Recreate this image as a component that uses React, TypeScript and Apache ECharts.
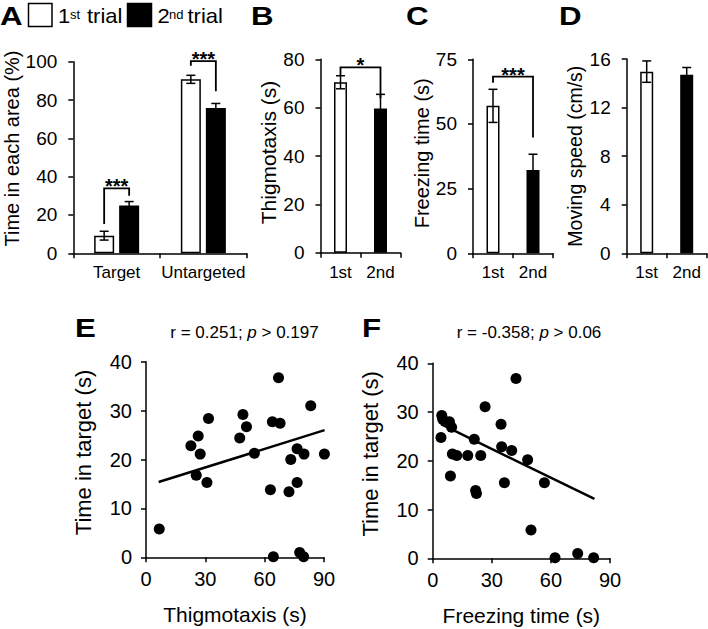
import React, { useEffect, useRef } from 'react';
import * as echarts from 'echarts';

// ---------- Data ----------
// Panel A: time in each area (%)
const areaCategories = ['Target', 'Untargeted'];
const area1stMean = [9.2, 90.8];
const area1stErr = [2.3, 2.1];
const area2ndMean = [24.9, 75.8];
const area2ndErr = [2.1, 2.4];

// Panels B-D
const trialCategories = ['1st', '2nd'];
const thigmoMean = [70.5, 59.7];
const thigmoErr = [2.7, 5.8];
const freezeMean = [57.0, 32.2];
const freezeErr = [6.4, 6.1];
const speedMean = [14.96, 14.7];
const speedErr = [0.88, 0.6];

// Significance brackets: [leftCategory, rightCategory, top, leftLegEnd, rightLegEnd]
const sigA = [
  [0, 0, 33.9, 15.3, 30.0],
  [1, 1, 100.3, 97.9, 84.6],
];
const sigALabels = ['***', '***'];
const sigB = [[0, 1, 76.7, 73.5, 63.9]];
const sigBLabels = ['*'];
const sigC = [[0, 1, 68.3, 65.9, 44.8]];
const sigCLabels = ['***'];

// Panel E: thigmotaxis (s) vs time in target (s)
const thigmoVsTarget = [
  [6.7, 5.8], [22.7, 22.8], [26.4, 24.8], [27.4, 21.1], [25.4, 16.8],
  [30.8, 15.3], [31.6, 28.4], [47.4, 24.4], [49.0, 29.2], [50.8, 26.7],
  [54.8, 21.3], [63.9, 27.7], [67.8, 27.4], [67.0, 36.7], [62.9, 13.8],
  [64.4, 0.1], [72.3, 13.4], [73.2, 20.0], [76.4, 15.3], [76.4, 22.2],
  [79.9, 21.1], [83.3, 31.0], [90.2, 21.1], [77.7, 1.0], [79.7, 0.1],
];
const thigmoTrend = [[6.4, 15.4], [90.3, 26.0]];
const titleE = { r: '0.251', p: '0.197' };

// Panel F: freezing time (s) vs time in target (s)
const freezeVsTarget = [
  [4.6, 29.3], [5.1, 28.5], [8.5, 28.0], [9.6, 26.9], [4.2, 24.8],
  [10.0, 21.4], [12.2, 21.1], [9.0, 16.9], [17.8, 21.1], [21.1, 24.4],
  [24.4, 21.1], [26.6, 31.1], [21.8, 13.9], [22.2, 13.3], [34.7, 27.5],
  [35.0, 22.9], [40.1, 22.1], [36.4, 15.5], [42.3, 36.9], [48.2, 20.2],
  [56.7, 15.5], [49.9, 5.8], [62.1, 0.1], [73.6, 1.0], [81.7, 0.1],
];
const freezeTrend = [[4.2, 27.5], [82.1, 12.2]];
const titleF = { r: '-0.358', p: '0.06' };

// ---------- Styles ----------
const FONT = '"Liberation Sans", Arial, Helvetica, sans-serif';
const BLACK = '#000';
const axisLine = { show: true, onZero: false, lineStyle: { color: BLACK, width: 1.5 } };
const axisTick = { show: true, length: 5, inside: false, lineStyle: { color: BLACK, width: 1.5 } };
const whiteBar = { color: '#fff', borderColor: BLACK, borderWidth: 1.5 };
const blackBar = { color: BLACK, borderColor: BLACK, borderWidth: 1.5 };

function yAxisDef(gi: number, min: number, max: number, interval: number, name: string,
  gap: number, nameSize: number, shift: number, labelSize: number, labelMargin: number) {
  return {
    type: 'value', gridIndex: gi, min, max, interval,
    name, nameLocation: 'middle', nameGap: gap, nameRotate: 90,
    nameTextStyle: { fontFamily: FONT, fontSize: nameSize, color: BLACK, padding: [0, 0, 0, shift * 2] },
    axisLine, axisTick, splitLine: { show: false },
    axisLabel: { fontFamily: FONT, fontSize: labelSize, color: BLACK, margin: labelMargin },
  };
}

function catXDef(gi: number, data: string[], labelSize: number) {
  return {
    type: 'category', gridIndex: gi, data, boundaryGap: true,
    axisLine, axisTick: { ...axisTick, alignWithLabel: false, interval: 0 },
    axisLabel: { fontFamily: FONT, fontSize: labelSize, color: BLACK, margin: 11, interval: 0 },
    splitLine: { show: false },
  };
}

function valXDef(gi: number, name: string, gap: number) {
  return {
    type: 'value', gridIndex: gi, min: 0, max: 90, interval: 30,
    name, nameLocation: 'middle', nameGap: gap,
    nameTextStyle: { fontFamily: FONT, fontSize: 21, color: BLACK },
    axisLine, axisTick, splitLine: { show: false },
    axisLabel: { fontFamily: FONT, fontSize: 20, color: BLACK, margin: 12 },
  };
}

function errRender(offset: number) {
  return (params: any, api: any) => {
    const cat = api.value(0);
    const mean = api.value(1);
    const err = api.value(2);
    const hi = api.coord([cat, mean + err]);
    const lo = api.coord([cat, mean - err]);
    const x = hi[0] + offset;
    const cap = 4.5;
    const st = { stroke: BLACK, lineWidth: 1.5 };
    return {
      type: 'group',
      children: [
        { type: 'line', shape: { x1: x, y1: hi[1], x2: x, y2: lo[1] }, style: st },
        { type: 'line', shape: { x1: x - cap, y1: hi[1], x2: x + cap, y2: hi[1] }, style: st },
        { type: 'line', shape: { x1: x - cap, y1: lo[1], x2: x + cap, y2: lo[1] }, style: st },
      ],
    };
  };
}

function bracketRender(labels: string[], leftOff: number, rightOff: number) {
  return (params: any, api: any) => {
    const lc = api.value(0);
    const rc = api.value(1);
    const top = api.value(2);
    const le = api.value(3);
    const re = api.value(4);
    const tl = api.coord([lc, top]);
    const tr = api.coord([rc, top]);
    const pl = api.coord([lc, le]);
    const pr = api.coord([rc, re]);
    const xl = tl[0] + leftOff;
    const xr = tr[0] + rightOff;
    const y = tl[1];
    return {
      type: 'group',
      children: [
        {
          type: 'polyline',
          shape: { points: [[xl, pl[1]], [xl, y], [xr, y], [xr, pr[1]]] },
          style: { stroke: BLACK, lineWidth: 1.8, fill: null },
        },
        {
          type: 'text', x: (xl + xr) / 2, y: y - 2,
          style: {
            text: labels[params.dataIndex], fontSize: 20, fontWeight: 'bold', fontFamily: FONT,
            fill: BLACK, align: 'center', verticalAlign: 'middle',
            textAlign: 'center', textVerticalAlign: 'middle',
          },
        },
      ],
    };
  };
}

function txt(text: string, x: number, y: number, size: number, extra: any = {}, scaleX = 1) {
  return {
    type: 'text', x, y, scaleX, silent: true,
    style: {
      text, fontSize: size, fontFamily: FONT, fill: BLACK,
      align: 'left', verticalAlign: 'middle', textAlign: 'left', textVerticalAlign: 'middle',
      ...extra,
    },
  };
}

function corrTitle(t: { r: string; p: string }, x: number, y: number) {
  return {
    type: 'text', x, y, silent: true,
    style: {
      text: `{n|r = ${t.r}; }{i|p}{n| > ${t.p}}`,
      fontFamily: FONT, fill: BLACK, fontSize: 17,
      align: 'center', verticalAlign: 'middle', textAlign: 'center', textVerticalAlign: 'middle',
      rich: {
        n: { fontFamily: FONT, fontSize: 17, fill: BLACK, color: BLACK },
        i: { fontFamily: FONT, fontSize: 17, fontStyle: 'italic', fill: BLACK, color: BLACK },
      },
    },
  };
}

function singleBars(means: number[]) {
  return means.map((v, i) => ({ value: v, itemStyle: i === 0 ? whiteBar : blackBar }));
}

function errData(means: number[], errs: number[]) {
  return means.map((m, i) => [i, m, errs[i]]);
}

function buildOption() {
  const BAR_OFF = 12.5;
  const bold = { fontWeight: 'bold' };
  const dot = { color: BLACK, opacity: 1 };
  return {
    animation: false,
    backgroundColor: '#fff',
    textStyle: { fontFamily: FONT },
    grid: [
      { left: 73.3, top: 61.7, width: 173.4, height: 191.6 },
      { left: 320.5, top: 59.3, width: 80, height: 193.4 },
      { left: 473, top: 59.3, width: 80, height: 194 },
      { left: 626.7, top: 59, width: 80, height: 194.3 },
      { left: 146, top: 361.7, width: 178, height: 195.6 },
      { left: 432.7, top: 363.3, width: 177.3, height: 195 },
    ],
    xAxis: [
      catXDef(0, areaCategories, 17),
      catXDef(1, trialCategories, 17),
      catXDef(2, trialCategories, 17),
      catXDef(3, trialCategories, 17),
      valXDef(4, 'Thigmotaxis (s)', 47),
      valXDef(5, 'Freezing time (s)', 47),
    ],
    yAxis: [
      yAxisDef(0, 0, 100, 20, 'Time in each area (%)', 50, 20, 9, 19, 16),
      yAxisDef(1, 0, 80, 20, 'Thigmotaxis (s)', 40, 21, 3.5, 19, 16),
      yAxisDef(2, 0, 75, 25, 'Freezing time (s)', 41, 20, 3, 19, 16),
      yAxisDef(3, 0, 16, 4, 'Moving speed (cm/s)', 42, 19.5, 0, 19, 16),
      yAxisDef(4, 0, 40, 10, 'Time in target (s)', 51.7, 22, 7, 20, 14),
      yAxisDef(5, 0, 40, 10, 'Time in target (s)', 51, 22, 7, 20, 14),
    ],
    series: [
      // Panel A
      { type: 'bar', name: '1st trial', xAxisIndex: 0, yAxisIndex: 0, data: area1stMean, barWidth: 20, barGap: '25%', itemStyle: whiteBar },
      { type: 'bar', name: '2nd trial', xAxisIndex: 0, yAxisIndex: 0, data: area2ndMean, barWidth: 20, barGap: '25%', itemStyle: blackBar },
      { type: 'custom', xAxisIndex: 0, yAxisIndex: 0, data: errData(area1stMean, area1stErr), renderItem: errRender(-BAR_OFF), z: 5 },
      { type: 'custom', xAxisIndex: 0, yAxisIndex: 0, data: errData(area2ndMean, area2ndErr), renderItem: errRender(BAR_OFF), z: 5 },
      { type: 'custom', xAxisIndex: 0, yAxisIndex: 0, data: sigA, renderItem: bracketRender(sigALabels, -BAR_OFF, BAR_OFF), z: 5 },
      // Panel B
      { type: 'bar', xAxisIndex: 1, yAxisIndex: 1, data: singleBars(thigmoMean), barWidth: 13 },
      { type: 'custom', xAxisIndex: 1, yAxisIndex: 1, data: errData(thigmoMean, thigmoErr), renderItem: errRender(0), z: 5 },
      { type: 'custom', xAxisIndex: 1, yAxisIndex: 1, data: sigB, renderItem: bracketRender(sigBLabels, 0, 0), z: 5 },
      // Panel C
      { type: 'bar', xAxisIndex: 2, yAxisIndex: 2, data: singleBars(freezeMean), barWidth: 13 },
      { type: 'custom', xAxisIndex: 2, yAxisIndex: 2, data: errData(freezeMean, freezeErr), renderItem: errRender(0), z: 5 },
      { type: 'custom', xAxisIndex: 2, yAxisIndex: 2, data: sigC, renderItem: bracketRender(sigCLabels, 0, 0), z: 5 },
      // Panel D
      { type: 'bar', xAxisIndex: 3, yAxisIndex: 3, data: singleBars(speedMean), barWidth: 13 },
      { type: 'custom', xAxisIndex: 3, yAxisIndex: 3, data: errData(speedMean, speedErr), renderItem: errRender(0), z: 5 },
      // Panel E
      { type: 'scatter', xAxisIndex: 4, yAxisIndex: 4, data: thigmoVsTarget, symbolSize: 11, itemStyle: dot, clip: false },
      { type: 'line', xAxisIndex: 4, yAxisIndex: 4, data: thigmoTrend, symbol: 'none', showSymbol: false, lineStyle: { color: BLACK, width: 2.5, opacity: 1 }, clip: false },
      // Panel F
      { type: 'scatter', xAxisIndex: 5, yAxisIndex: 5, data: freezeVsTarget, symbolSize: 11, itemStyle: dot, clip: false },
      { type: 'line', xAxisIndex: 5, yAxisIndex: 5, data: freezeTrend, symbol: 'none', showSymbol: false, lineStyle: { color: BLACK, width: 2.5, opacity: 1 }, clip: false },
    ],
    graphic: [
      // Panel letters
      txt('A', 0, 16, 25, bold, 1.25),
      txt('B', 251, 16, 25, bold, 1.25),
      txt('C', 406, 16, 25, bold, 1.25),
      txt('D', 559, 16, 25, bold, 1.25),
      txt('E', 75, 328.5, 25, bold, 1.25),
      txt('F', 362, 328.5, 25, bold, 1.25),
      // Legend
      { type: 'rect', shape: { x: 28.5, y: 3.5, width: 23.5, height: 23 }, style: { fill: '#fff', stroke: BLACK, lineWidth: 1.5 } },
      txt('1', 58, 16, 20, {}, 1.1),
      txt('st', 70, 14, 13),
      txt('trial', 87, 16, 20, {}, 1.1),
      { type: 'rect', shape: { x: 127.5, y: 3.5, width: 24, height: 23 }, style: { fill: BLACK, stroke: BLACK, lineWidth: 1.5 } },
      txt('2', 157.5, 16, 20, {}, 1.1),
      txt('nd', 169, 14, 13),
      txt('trial', 187.5, 16, 20, {}, 1.1),
      // Correlation titles
      corrTitle(titleE, 244.5, 332.5),
      corrTitle(titleF, 529, 332.5),
    ],
  };
}

export default function App() {
  const ref = useRef<HTMLDivElement>(null);
  useEffect(() => {
    if (!ref.current) return;
    const chart = echarts.init(ref.current, undefined, { renderer: 'svg' });
    chart.setOption(buildOption() as any);
    return () => chart.dispose();
  }, []);
  return (
    <div
      ref={ref}
      style={{ position: 'absolute', left: 0, top: 0, width: 708, height: 629, background: '#fff' }}
    />
  );
}
